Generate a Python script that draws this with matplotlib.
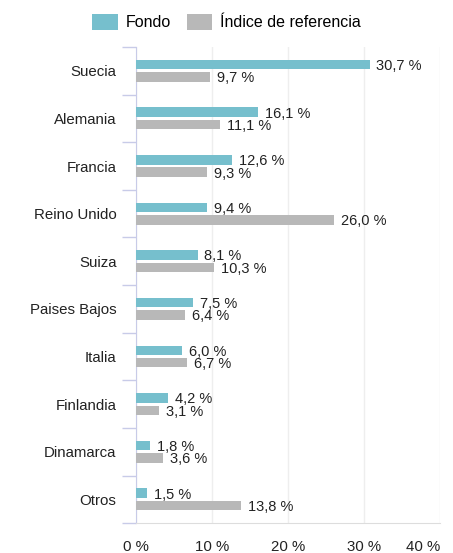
import matplotlib.pyplot as plt
import numpy as np

plt.rcParams['font.family'] = ['Liberation Sans', 'DejaVu Sans']

paises = ["Suecia", "Alemania", "Francia", "Reino Unido", "Suiza",
          "Paises Bajos", "Italia", "Finlandia", "Dinamarca", "Otros"]
fondo = [30.7, 16.1, 12.6, 9.4, 8.1, 7.5, 6.0, 4.2, 1.8, 1.5]
indice = [9.7, 11.1, 9.3, 26.0, 10.3, 6.4, 6.7, 3.1, 3.6, 13.8]
ticks_x = [0, 10, 20, 30, 40]

C_FONDO = "#76bfcd"
C_INDICE = "#b8b8b8"


def fmt(v):
    return f"{v:.1f} %".replace(".", ",")


def main():
    fig = plt.figure(figsize=(4.53, 5.53), dpi=100)
    ax = fig.add_axes([0.300, 0.054, 0.672, 0.861])

    y = np.arange(len(paises))
    h = 0.2
    off = 0.13
    ax.barh(y - off, fondo, height=h, color=C_FONDO, label="Fondo", zorder=3)
    ax.barh(y + off, indice, height=h, color=C_INDICE,
            label="Índice de referencia", zorder=3)

    for i in range(len(paises)):
        ax.annotate(fmt(fondo[i]), (fondo[i], y[i] - off), xytext=(5, -1),
                    textcoords="offset points", va="center", ha="left",
                    fontsize=10.5, color="#222222")
        ax.annotate(fmt(indice[i]), (indice[i], y[i] + off), xytext=(5, -1),
                    textcoords="offset points", va="center", ha="left",
                    fontsize=10.5, color="#222222")

    ax.set_ylim(len(paises) - 0.5, -0.5)
    ax.set_xlim(0, 40)
    ax.set_yticks(y)
    ax.set_yticklabels(paises, fontsize=10.8, color="#222222")
    ax.set_yticks(np.arange(len(paises) + 1) - 0.5, minor=True)
    ax.tick_params(axis="y", which="major", length=0, pad=14)
    ax.tick_params(axis="y", which="minor", length=10, width=1, color="#c8cbe8")

    ax.set_xticks(ticks_x)
    ax.set_xticklabels([f"{t} %" for t in ticks_x], fontsize=10.8, color="#222222")
    ax.get_xticklabels()[-1].set_ha("right")
    ax.tick_params(axis="x", length=0, pad=12)

    ax.grid(axis="x", color="#eeeeee", lw=1, zorder=0)
    ax.spines["top"].set_visible(False)
    ax.spines["right"].set_visible(False)
    ax.spines["left"].set_color("#c8cbe8")
    ax.spines["bottom"].set_color("#dddddd")

    fig.legend(loc="upper center", bbox_to_anchor=(0.5, 1.0), ncol=2,
               frameon=False, fontsize=11.5, handlelength=1.6, handleheight=1.1,
               columnspacing=1.0, handletextpad=0.5)

    plt.savefig("out.png", dpi=100)


if __name__ == "__main__":
    main()
